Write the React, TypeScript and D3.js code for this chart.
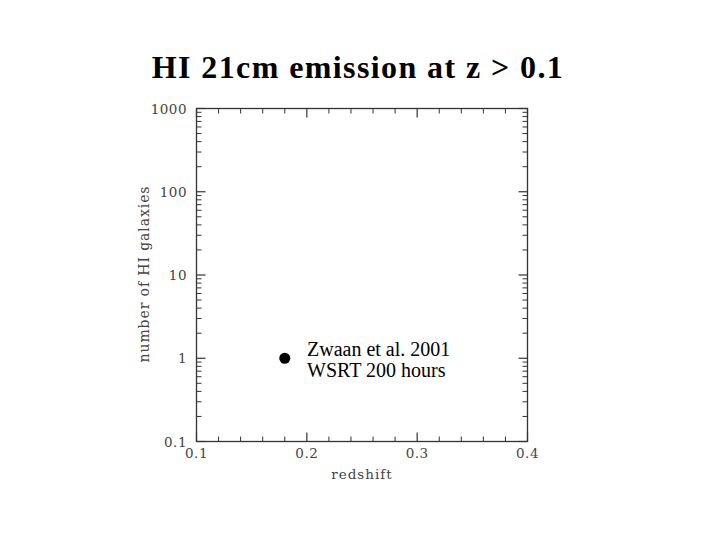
import React from "react";
import * as d3 from "d3";

const title = "HI 21cm emission at z > 0.1";
const xLabel = "redshift";
const yLabel = "number of HI galaxies";
const xDomain = [0.1, 0.4];
const yDomain = [0.1, 1000];
const xMajorTicks = [0.1, 0.2, 0.3, 0.4];
const yMajorTicks = [0.1, 1, 10, 100, 1000];
const yTickLabels = ["0.1", "1", "10", "100", "1000"];
const pointsZ = [0.18];
const pointsN = [1];
const legendLines = ["Zwaan et al. 2001", "WSRT 200 hours"];

export default function App() {
  const L = 196.5, R = 527.5, T = 108.5, B = 441.5;
  const x = d3.scaleLinear().domain(xDomain).range([L, R]);
  const y = d3.scaleLog().domain(yDomain).range([B, T]);
  const xMinor = d3.range(0, 16).map((i) => 0.1 + i * 0.02).filter((v) => v < 0.4 - 1e-9 && Math.abs(v * 10 - Math.round(v * 10)) > 1e-6);
  const yMinor: number[] = [];
  for (let e = -1; e < 3; e++) for (let k = 2; k <= 9; k++) yMinor.push(k * Math.pow(10, e));
  const axisColor = "#333";
  const labelFont = "DejaVu Serif";
  const serif = "Liberation Serif";
  const major = 9, minor = 5;
  return (
    <svg width={720} height={540} style={{ position: "absolute", left: 0, top: 0, background: "#fff" }}>
      <text x={358} y={78} textAnchor="middle" fontFamily={serif} fontWeight="bold" fontSize={32} letterSpacing={1.4} fill="#000">{title}</text>
      <rect x={L} y={T} width={R - L} height={B - T} fill="none" stroke={axisColor} strokeWidth={1.3} />
      {xMajorTicks.map((v, i) => (
        <g key={"xm" + i}>
          <line x1={x(v)} x2={x(v)} y1={B} y2={B - major} stroke={axisColor} strokeWidth={1.2} />
          <line x1={x(v)} x2={x(v)} y1={T} y2={T + major} stroke={axisColor} strokeWidth={1.2} />
          <text x={x(v)} y={458} textAnchor="middle" fontFamily={labelFont} fontSize={13.5} letterSpacing={0.5} fill="#444">{String(v)}</text>
        </g>
      ))}
      {xMinor.map((v, i) => (
        <g key={"xn" + i}>
          <line x1={x(v)} x2={x(v)} y1={B} y2={B - minor} stroke={axisColor} strokeWidth={1} />
          <line x1={x(v)} x2={x(v)} y1={T} y2={T + minor} stroke={axisColor} strokeWidth={1} />
        </g>
      ))}
      {yMajorTicks.map((v, i) => (
        <g key={"ym" + i}>
          <line x1={L} x2={L + major} y1={y(v)} y2={y(v)} stroke={axisColor} strokeWidth={1.2} />
          <line x1={R} x2={R - major} y1={y(v)} y2={y(v)} stroke={axisColor} strokeWidth={1.2} />
          <text x={187} y={y(v) + 5} textAnchor="end" fontFamily={labelFont} fontSize={13.5} letterSpacing={0.5} fill="#444">{yTickLabels[i]}</text>
        </g>
      ))}
      {yMinor.map((v, i) => (
        <g key={"yn" + i}>
          <line x1={L} x2={L + minor} y1={y(v)} y2={y(v)} stroke={axisColor} strokeWidth={1} />
          <line x1={R} x2={R - minor} y1={y(v)} y2={y(v)} stroke={axisColor} strokeWidth={1} />
        </g>
      ))}
      <text x={362} y={479} textAnchor="middle" fontFamily={labelFont} fontSize={13.5} letterSpacing={1} fill="#444">{xLabel}</text>
      <text transform={`translate(149,${274}) rotate(-90)`} textAnchor="middle" fontFamily={labelFont} fontSize={14} letterSpacing={0.9} fill="#444">{yLabel}</text>
      {pointsZ.map((z, i) => (
        <circle key={"p" + i} cx={x(z)} cy={y(pointsN[i])} r={5.5} fill="#000" />
      ))}
      {legendLines.map((t, i) => (
        <text key={"l" + i} x={307} y={356 + i * 21} fontFamily={serif} fontSize={20} fill="#000">{t}</text>
      ))}
    </svg>
  );
}
